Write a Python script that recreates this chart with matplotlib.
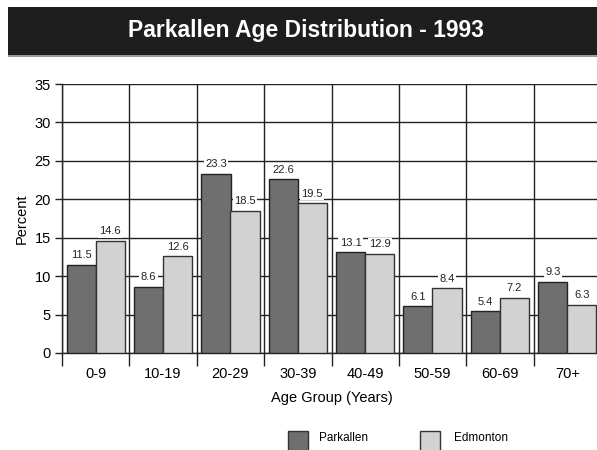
import matplotlib
matplotlib.use("Agg")
import matplotlib.pyplot as plt
from matplotlib.patches import Rectangle
import numpy as np

plt.rcParams['font.family'] = ['Liberation Sans', 'DejaVu Sans']

categories = ["0-9", "10-19", "20-29", "30-39", "40-49", "50-59", "60-69", "70+"]
parkallen = [11.5, 8.6, 23.3, 22.6, 13.1, 6.1, 5.4, 9.3]
edmonton = [14.6, 12.6, 18.5, 19.5, 12.9, 8.4, 7.2, 6.3]
series_names = ["Parkallen", "Edmonton"]
title = "Parkallen Age Distribution - 1993"

W, H = 597, 450
fig = plt.figure(figsize=(W / 100, H / 100), dpi=100)

# title bar
fig.patches.append(Rectangle((8 / W, 1 - 55 / H), 1 - 8 / W, 48 / H,
                             transform=fig.transFigure, facecolor='#1e1e1e',
                             edgecolor='none', zorder=0))
fig.patches.append(Rectangle((8 / W, 1 - 57 / H), 1 - 8 / W, 2 / H,
                             transform=fig.transFigure, facecolor='#9a9a9a',
                             edgecolor='none', zorder=0))
fig.text(306 / W, 1 - 31 / H, title, color='white', fontsize=16.5,
         fontweight='bold', ha='center', va='center')

ax = fig.add_axes([62 / W, 1 - 353 / H, (601 - 62) / W, (353 - 84) / H])
x = np.arange(len(categories))
dark = '#6f6f6f'
light = '#d2d2d2'
w = 0.435
b1 = ax.bar(x - 0.215, parkallen, width=w, color=dark, edgecolor='#222222',
            linewidth=1.0, zorder=3)
b2 = ax.bar(x + 0.215, edmonton, width=w, color=light, edgecolor='#333333',
            linewidth=1.0, zorder=3)

for bars, vals in ((b1, parkallen), (b2, edmonton)):
    for r, v in zip(bars, vals):
        ax.text(r.get_x() + r.get_width() / 2, v + 0.6, f"{v:.1f}",
                ha='center', va='bottom', fontsize=8, color='#222222',
                zorder=5,
                bbox=dict(facecolor='white', edgecolor='none', pad=1.0))

ax.set_xlim(-0.5, len(categories) - 0.5)
ax.set_ylim(0, 35)
ax.set_yticks(np.arange(0, 36, 5))
ax.set_xticks(x)
ax.set_xticklabels(categories, fontsize=10.5)
ax.set_xticks(np.arange(-0.5, len(categories), 1), minor=True)
ax.tick_params(axis='x', which='major', length=0, pad=10)
ax.tick_params(axis='x', which='minor', length=9, width=1, color='#222222')
ax.tick_params(axis='y', length=5, width=1, labelsize=10.5, pad=3,
               color='#222222')
ax.grid(axis='y', which='major', color='#222222', linewidth=1.0, zorder=0)
ax.grid(axis='x', which='minor', color='#222222', linewidth=1.0, zorder=0)
ax.set_axisbelow(True)
for s in ['top', 'right']:
    ax.spines[s].set_visible(False)
for s in ['left', 'bottom']:
    ax.spines[s].set_color('#222222')
    ax.spines[s].set_linewidth(1.0)

ax.set_ylabel("Percent", fontsize=10.5, labelpad=4)
ax.set_xlabel("Age Group (Years)", fontsize=10.5, labelpad=7.5)

# legend
for xs, col, name, tx in ((288, dark, series_names[0], 319),
                          (420, light, series_names[1], 454)):
    fig.patches.append(Rectangle((xs / W, 1 - 452 / H), 20 / W, 21 / H,
                                 transform=fig.transFigure, facecolor=col,
                                 edgecolor='#333333', linewidth=1.0))
    fig.text(tx / W, 1 - 438 / H, name, fontsize=8.5, va='center', ha='left')

fig.savefig("out.png", dpi=100)
